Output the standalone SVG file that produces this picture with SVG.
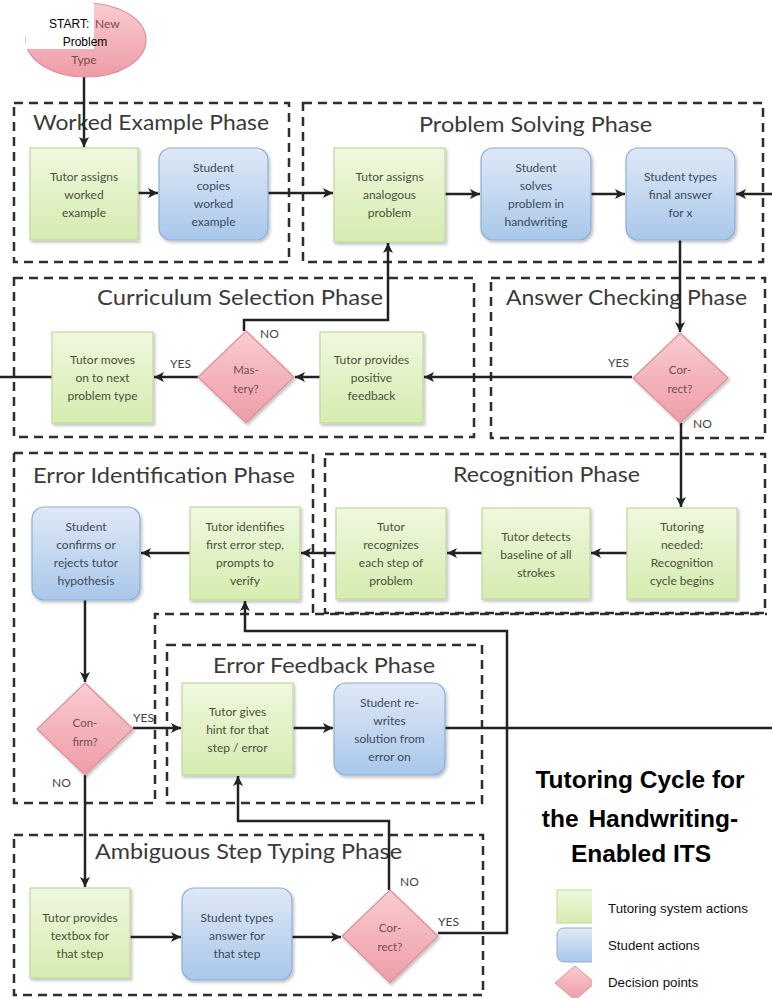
<svg xmlns="http://www.w3.org/2000/svg" width="772" height="998" viewBox="0 0 772 998">
  <defs>
    <linearGradient id="gGreen" x1="0" y1="0" x2="0" y2="1">
      <stop offset="0" stop-color="#eff8de"/>
      <stop offset="1" stop-color="#d6ecb0"/>
    </linearGradient>
    <linearGradient id="gBlue" x1="0" y1="0" x2="0" y2="1">
      <stop offset="0" stop-color="#dfe9f6"/>
      <stop offset="1" stop-color="#a9c7ea"/>
    </linearGradient>
    <linearGradient id="gPink" x1="0" y1="0" x2="0" y2="1">
      <stop offset="0" stop-color="#f9ccd1"/>
      <stop offset="1" stop-color="#ee9ca7"/>
    </linearGradient>
    <filter id="shadow" x="-10%" y="-10%" width="130%" height="130%">
      <feDropShadow dx="1.5" dy="2" stdDeviation="1.5" flood-color="#000" flood-opacity="0.25"/>
    </filter>
    <marker id="arrow" markerUnits="userSpaceOnUse" markerWidth="11" markerHeight="11" refX="10" refY="5.5" orient="auto">
      <path d="M0,0.5 L10,5.5 L0,10.5 L2.5,5.5 z" fill="#222"/>
    </marker>
    <style>
      .phase { fill: none; stroke: #2e2e2e; stroke-width: 2.5; stroke-dasharray: 9 6; }
      .ptitle { font-family: Lato, "Open Sans", sans-serif; font-size: 21px; fill: #3a3a3a; }
      .tbox { fill: url(#gGreen); stroke: #c3d79e; stroke-width: 1.2; filter: url(#shadow); }
      .sbox { fill: url(#gBlue); stroke: #8eaed6; stroke-width: 1.2; filter: url(#shadow); }
      .dec { fill: url(#gPink); stroke: #dc8f99; stroke-width: 1.2; filter: url(#shadow); }
      .tt { font-family: Lato, "Open Sans", sans-serif; font-size: 12px; fill: #4a5238; text-anchor: middle; }
      .st { font-family: Lato, "Open Sans", sans-serif; font-size: 12px; fill: #3d4a5c; text-anchor: middle; }
      .dt { font-family: Lato, "Open Sans", sans-serif; font-size: 11.5px; fill: #7a4a50; text-anchor: middle; }
      .lbl { font-family: Lato, "Open Sans", sans-serif; font-size: 12px; fill: #444; }
      .conn { fill: none; stroke: #222; stroke-width: 2.5; }
      .head { font-family: "Liberation Sans", Arial, sans-serif; font-size: 24.5px; font-weight: bold; fill: #000; text-anchor: middle; }
      .leg { font-family: "Liberation Sans", Arial, sans-serif; font-size: 13.3px; fill: #111; }
    </style>
  </defs>

  <rect x="0" y="0" width="772" height="998" fill="#fff"/>

  <!-- phase outlines -->
  <g id="phases">
    <rect class="phase" x="14" y="103" width="275" height="159"/>
    <rect class="phase" x="303" y="103" width="460" height="159"/>
    <rect class="phase" x="14" y="278" width="460" height="159"/>
    <rect class="phase" x="491" y="278" width="274" height="160"/>
    <path class="phase" d="M14,453 H313 V613 M14,453 V803 H155 V614 H767"/>
    <rect class="phase" x="325" y="454" width="440" height="159"/>
    <rect class="phase" x="167" y="645" width="315" height="158"/>
    <rect class="phase" x="14" y="835" width="469" height="160"/>
    <text class="ptitle" x="33" y="130" textLength="236" lengthAdjust="spacingAndGlyphs">Worked Example Phase</text>
    <text class="ptitle" x="419" y="132" textLength="233" lengthAdjust="spacingAndGlyphs">Problem Solving Phase</text>
    <text class="ptitle" x="97" y="305" textLength="286" lengthAdjust="spacingAndGlyphs">Curriculum Selection Phase</text>
    <text class="ptitle" x="506" y="305" textLength="241" lengthAdjust="spacingAndGlyphs">Answer Checking Phase</text>
    <text class="ptitle" x="33" y="483" textLength="262" lengthAdjust="spacingAndGlyphs">Error Identification Phase</text>
    <text class="ptitle" x="453" y="482" textLength="187" lengthAdjust="spacingAndGlyphs">Recognition Phase</text>
    <text class="ptitle" x="213" y="673" textLength="222" lengthAdjust="spacingAndGlyphs">Error Feedback Phase</text>
    <text class="ptitle" x="95" y="859" textLength="307" lengthAdjust="spacingAndGlyphs">Ambiguous Step Typing Phase</text>
  </g>

  <!-- connectors -->
  <g id="connectors">
    <path class="conn" d="M84,77 V147" marker-end="url(#arrow)"/>
    <path class="conn" d="M138,193 H158" marker-end="url(#arrow)"/>
    <path class="conn" d="M268,193 H333" marker-end="url(#arrow)"/>
    <path class="conn" d="M445,194 H480" marker-end="url(#arrow)"/>
    <path class="conn" d="M591,194 H625" marker-end="url(#arrow)"/>
    <path class="conn" d="M772,194 H736" marker-end="url(#arrow)"/>
    <path class="conn" d="M680,240 V332" marker-end="url(#arrow)"/>
    <path class="conn" d="M632,377 H424" marker-end="url(#arrow)"/>
    <path class="conn" d="M320,377 H295" marker-end="url(#arrow)"/>
    <path class="conn" d="M198,377 H154" marker-end="url(#arrow)"/>
    <path class="conn" d="M52,377 H0"/>
    <path class="conn" d="M244,331 V320 H388 V243" marker-end="url(#arrow)"/>
    <path class="conn" d="M681,423 V507" marker-end="url(#arrow)"/>
    <path class="conn" d="M627,553 H591" marker-end="url(#arrow)"/>
    <path class="conn" d="M482,553 H447" marker-end="url(#arrow)"/>
    <path class="conn" d="M336,553 H301" marker-end="url(#arrow)"/>
    <path class="conn" d="M190,553 H141" marker-end="url(#arrow)"/>
    <path class="conn" d="M85,600 V682" marker-end="url(#arrow)"/>
    <path class="conn" d="M133,728 H181" marker-end="url(#arrow)"/>
    <path class="conn" d="M293,728 H333" marker-end="url(#arrow)"/>
    <path class="conn" d="M445,728 H772"/>
    <path class="conn" d="M85,775 V887" marker-end="url(#arrow)"/>
    <path class="conn" d="M130,937 H181" marker-end="url(#arrow)"/>
    <path class="conn" d="M292,937 H341" marker-end="url(#arrow)"/>
    <path class="conn" d="M389,890 V821 H238 V776" marker-end="url(#arrow)"/>
    <path class="conn" d="M438,933 H507 V631 H245 V601" marker-end="url(#arrow)"/>
  </g>

  <!-- start -->
  <g id="start">
    <ellipse cx="86" cy="40" rx="60" ry="37" fill="url(#gPink)" stroke="#dc8f99" stroke-width="1.2"/>
    <rect x="26" y="0" width="68" height="49" fill="#fff"/>
    <text x="49" y="28" font-family="Liberation Sans, Arial, sans-serif" font-size="12" fill="#000">START:</text>
    <text x="95" y="28" font-family="Lato, sans-serif" font-size="12" fill="#7a4a50">New</text>
    <text x="85" y="46" font-family="Liberation Sans, Arial, sans-serif" font-size="12" fill="#000" text-anchor="middle">Problem</text>
    <text x="84" y="64" font-family="Lato, sans-serif" font-size="12" fill="#7a4a50" text-anchor="middle">Type</text>
  </g>

  <!-- worked example phase -->
  <g id="wex_assign">
    <rect class="tbox" x="30" y="148" width="108" height="92"/>
    <text class="tt" x="84" y="181">Tutor assigns</text>
    <text class="tt" x="84" y="199">worked</text>
    <text class="tt" x="84" y="217">example</text>
  </g>
  <g id="wex_copy">
    <rect class="sbox" x="159" y="148" width="109" height="92" rx="12"/>
    <text class="st" x="213.5" y="172">Student</text>
    <text class="st" x="213.5" y="190">copies</text>
    <text class="st" x="213.5" y="208">worked</text>
    <text class="st" x="213.5" y="226">example</text>
  </g>

  <!-- problem solving phase -->
  <g id="ps_assign">
    <rect class="tbox" x="334" y="148" width="111" height="94"/>
    <text class="tt" x="389.5" y="181">Tutor assigns</text>
    <text class="tt" x="389.5" y="199">analogous</text>
    <text class="tt" x="389.5" y="217">problem</text>
  </g>
  <g id="ps_solve">
    <rect class="sbox" x="481" y="148" width="110" height="92" rx="12"/>
    <text class="st" x="536" y="172">Student</text>
    <text class="st" x="536" y="190">solves</text>
    <text class="st" x="536" y="208">problem in</text>
    <text class="st" x="536" y="226">handwriting</text>
  </g>
  <g id="ps_type">
    <rect class="sbox" x="626" y="148" width="109" height="92" rx="12"/>
    <text class="st" x="680.5" y="181">Student types</text>
    <text class="st" x="680.5" y="199">final answer</text>
    <text class="st" x="680.5" y="217">for x</text>
  </g>

  <!-- curriculum selection phase -->
  <g id="cs_moves">
    <rect class="tbox" x="52" y="332" width="101" height="91"/>
    <text class="tt" x="102.5" y="364">Tutor moves</text>
    <text class="tt" x="102.5" y="382">on to next</text>
    <text class="tt" x="102.5" y="400">problem type</text>
  </g>
  <g id="cs_mastery">
    <polygon class="dec" points="246,331 294,377 246,423 198,377"/>
    <text class="dt" x="246" y="374">Mas-</text>
    <text class="dt" x="246" y="393">tery?</text>
    <text class="lbl" x="260" y="338">NO</text>
    <text class="lbl" x="170" y="368">YES</text>
  </g>
  <g id="cs_feedback">
    <rect class="tbox" x="320" y="332" width="103" height="91"/>
    <text class="tt" x="371.5" y="364">Tutor provides</text>
    <text class="tt" x="371.5" y="382">positive</text>
    <text class="tt" x="371.5" y="400">feedback</text>
  </g>

  <!-- answer checking phase -->
  <g id="ac_correct">
    <polygon class="dec" points="680,333 728,378 680,423 633,378"/>
    <text class="dt" x="680" y="374">Cor-</text>
    <text class="dt" x="680" y="393">rect?</text>
    <text class="lbl" x="608" y="367">YES</text>
    <text class="lbl" x="693" y="428">NO</text>
  </g>

  <!-- recognition phase -->
  <g id="rec_needed">
    <rect class="tbox" x="627" y="508" width="110" height="91"/>
    <text class="tt" x="682" y="531">Tutoring</text>
    <text class="tt" x="682" y="549">needed:</text>
    <text class="tt" x="682" y="567">Recognition</text>
    <text class="tt" x="682" y="585">cycle begins</text>
  </g>
  <g id="rec_baseline">
    <rect class="tbox" x="482" y="508" width="108" height="91"/>
    <text class="tt" x="536" y="541">Tutor detects</text>
    <text class="tt" x="536" y="559">baseline of all</text>
    <text class="tt" x="536" y="577">strokes</text>
  </g>
  <g id="rec_steps">
    <rect class="tbox" x="336" y="508" width="110" height="91"/>
    <text class="tt" x="391" y="531">Tutor</text>
    <text class="tt" x="391" y="549">recognizes</text>
    <text class="tt" x="391" y="567">each step of</text>
    <text class="tt" x="391" y="585">problem</text>
  </g>

  <!-- error identification phase -->
  <g id="ei_identify">
    <rect class="tbox" x="190" y="507" width="110" height="93"/>
    <text class="tt" x="245" y="531">Tutor identifies</text>
    <text class="tt" x="245" y="549">first error step,</text>
    <text class="tt" x="245" y="567">prompts to</text>
    <text class="tt" x="245" y="585">verify</text>
  </g>
  <g id="ei_confirms">
    <rect class="sbox" x="32" y="507" width="108" height="93" rx="12"/>
    <text class="st" x="86" y="531">Student</text>
    <text class="st" x="86" y="549">confirms or</text>
    <text class="st" x="86" y="567">rejects tutor</text>
    <text class="st" x="86" y="585">hypothesis</text>
  </g>
  <g id="ei_confirm_dec">
    <polygon class="dec" points="85,683 133,729 85,775 37,729"/>
    <text class="dt" x="85" y="727">Con-</text>
    <text class="dt" x="85" y="746">firm?</text>
    <text class="lbl" x="133" y="722">YES</text>
    <text class="lbl" x="52" y="787">NO</text>
  </g>

  <!-- error feedback phase -->
  <g id="ef_hint">
    <rect class="tbox" x="182" y="683" width="111" height="92"/>
    <text class="tt" x="237.5" y="716">Tutor gives</text>
    <text class="tt" x="237.5" y="734">hint for that</text>
    <text class="tt" x="237.5" y="752">step / error</text>
  </g>
  <g id="ef_rewrite">
    <rect class="sbox" x="334" y="683" width="111" height="92" rx="12"/>
    <text class="st" x="389.5" y="707">Student re-</text>
    <text class="st" x="389.5" y="725">writes</text>
    <text class="st" x="389.5" y="743">solution from</text>
    <text class="st" x="389.5" y="761">error on</text>
  </g>

  <!-- ambiguous step typing phase -->
  <g id="am_textbox">
    <rect class="tbox" x="30" y="888" width="100" height="90"/>
    <text class="tt" x="80" y="922">Tutor provides</text>
    <text class="tt" x="80" y="940">textbox for</text>
    <text class="tt" x="80" y="958">that step</text>
  </g>
  <g id="am_types">
    <rect class="sbox" x="182" y="888" width="110" height="92" rx="12"/>
    <text class="st" x="237" y="922">Student types</text>
    <text class="st" x="237" y="940">answer for</text>
    <text class="st" x="237" y="958">that step</text>
  </g>
  <g id="am_correct">
    <polygon class="dec" points="390,890 438,936 390,983 342,936"/>
    <text class="dt" x="390" y="932">Cor-</text>
    <text class="dt" x="390" y="951">rect?</text>
    <text class="lbl" x="400" y="886">NO</text>
    <text class="lbl" x="438" y="926">YES</text>
  </g>

  <!-- heading and legend -->
  <g id="heading">
    <rect x="509" y="763" width="263" height="105" fill="#fff" opacity="0.45"/>
    <text class="head" x="640" y="788">Tutoring Cycle for</text>
    <text class="head" x="640" y="827" word-spacing="3">the Handwriting-</text>
    <text class="head" x="641" y="862">Enabled ITS</text>
  </g>
  <g id="legend">
    <rect x="557" y="890" width="45" height="33" fill="url(#gGreen)" stroke="#c3d79e" stroke-width="1"/>
    <rect x="557" y="928" width="45" height="34" rx="7" fill="url(#gBlue)" stroke="#8eaed6" stroke-width="1"/>
    <polygon points="575,966 595,983 575,1000 555,983" fill="url(#gPink)" stroke="#dc8f99" stroke-width="1"/>
    <rect x="592" y="885" width="180" height="113" fill="#fff"/>
    <text class="leg" x="608" y="913">Tutoring system actions</text>
    <text class="leg" x="608" y="950">Student actions</text>
    <text class="leg" x="608" y="987">Decision points</text>
  </g>
</svg>
